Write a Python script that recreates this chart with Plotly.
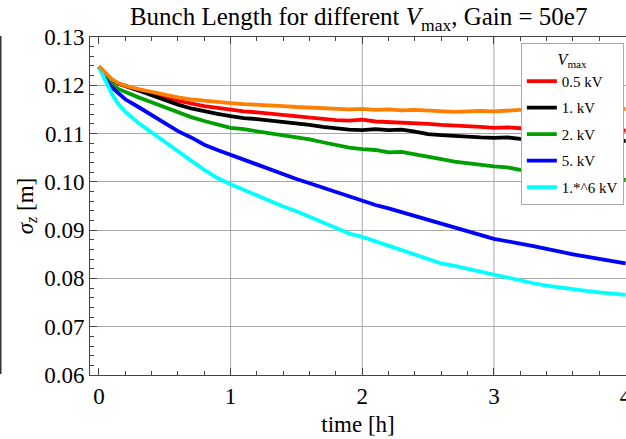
import plotly.graph_objects as go

t = [0, 0.05, 0.1, 0.15, 0.2, 0.3, 0.4, 0.5, 0.6, 0.7, 0.8, 0.9, 1.0, 1.1, 1.2, 1.3, 1.4, 1.5,
     1.6, 1.7, 1.8, 1.9, 2.0, 2.1, 2.2, 2.3, 2.4, 2.5, 2.6, 2.7, 2.8, 2.9, 3.0, 3.1, 3.2, 3.3,
     3.4, 3.5, 3.6, 3.7, 3.8, 3.9, 4.0]

red = [0.1238, 0.1223, 0.1211, 0.1203, 0.1198, 0.1190, 0.1181, 0.1174, 0.1168, 0.1162, 0.1157,
       0.1153, 0.1149, 0.1146, 0.1144, 0.1141, 0.1140, 0.1137, 0.1134, 0.1131, 0.1128, 0.1127,
       0.1129, 0.1125, 0.1124, 0.1123, 0.1121, 0.1120, 0.1118, 0.1117, 0.1115, 0.1114, 0.1112,
       0.1113, 0.1111, 0.1112, 0.1110, 0.1109, 0.1110, 0.1108, 0.1107, 0.1108, 0.1106]

black = [0.1238, 0.1222, 0.1210, 0.1203, 0.1199, 0.1189, 0.1178, 0.1168, 0.1160, 0.1152, 0.1146,
         0.1141, 0.1136, 0.1132, 0.1130, 0.1127, 0.1125, 0.1122, 0.1118, 0.1114, 0.1110, 0.1108,
         0.1107, 0.1109, 0.1107, 0.1108, 0.1104, 0.1099, 0.1097, 0.1095, 0.1093, 0.1092, 0.1091,
         0.1092, 0.1089, 0.1087, 0.1088, 0.1086, 0.1087, 0.1085, 0.1086, 0.1084, 0.1085]

green = [0.1238, 0.1218, 0.1201, 0.1192, 0.1186, 0.1175, 0.1165, 0.1155, 0.1143, 0.1134, 0.1126,
         0.1119, 0.1112, 0.1109, 0.1105, 0.1101, 0.1097, 0.1093, 0.1088, 0.1082, 0.1077, 0.1071,
         0.1068, 0.1066, 0.1061, 0.1062, 0.1057, 0.1053, 0.1047, 0.1042, 0.1038, 0.1035, 0.1032,
         0.1030, 0.1025, 0.1022, 0.1019, 0.1017, 0.1014, 0.1011, 0.1009, 0.1006, 0.1004]

blue = [0.1238, 0.1212, 0.1195, 0.1182, 0.1171, 0.1155, 0.1138, 0.1122, 0.1105, 0.1092, 0.1077,
        0.1066, 0.1056, 0.1045, 0.1034, 0.1024, 0.1015, 0.1006, 0.0997, 0.0988, 0.0979, 0.0968,
        0.0959, 0.0952, 0.0945, 0.0937, 0.0930, 0.0922, 0.0914, 0.0905, 0.0897, 0.0889, 0.0882,
        0.0877, 0.0871, 0.0867, 0.0861, 0.0855, 0.0850, 0.0845, 0.0840, 0.0835, 0.0831]

cyan = [0.1238, 0.1208, 0.1181, 0.1160, 0.1145, 0.1122, 0.1102, 0.1083, 0.1063, 0.1044, 0.1025,
        0.1008, 0.0995, 0.0983, 0.0971, 0.0960, 0.0949, 0.0939, 0.0928, 0.0916, 0.0905, 0.0893,
        0.0886, 0.0877, 0.0867, 0.0857, 0.0848, 0.0840, 0.0831, 0.0826, 0.0820, 0.0814, 0.0808,
        0.0801, 0.0796, 0.0790, 0.0785, 0.0781, 0.0777, 0.0774, 0.0771, 0.0768, 0.0766]

orange = [0.1240, 0.1225, 0.1212, 0.1204, 0.1199, 0.1192, 0.1186, 0.1180, 0.1175, 0.1171, 0.1168,
          0.1166, 0.1163, 0.1161, 0.1160, 0.1158, 0.1157, 0.1155, 0.1154, 0.1152, 0.1151, 0.1150,
          0.1151, 0.1149, 0.1150, 0.1148, 0.1149, 0.1148, 0.1147, 0.1145, 0.1146, 0.1147, 0.1146,
          0.1148, 0.1149, 0.1150, 0.1149, 0.1150, 0.1151, 0.1150, 0.1151, 0.1150, 0.1151]

names = ["0.5 kV", "1. kV", "2. kV", "5. kV", "1.*^6 kV"]
colors = ["#ff0000", "#000000", "#00a000", "#0000ff", "#00ffff"]
series = [red, black, green, blue, cyan]

x_ticks = [0, 1, 2, 3, 4]
y_ticks = [0.06, 0.07, 0.08, 0.09, 0.10, 0.11, 0.12, 0.13]
x_grid = [1, 2, 3]

FONT = "Liberation Serif"

fig = go.Figure()
for nm, col, ys in zip(names, colors, series):
    fig.add_trace(go.Scatter(x=t, y=ys, mode="lines", name=nm, legendgroup=nm,
                             line=dict(color=col, width=3.8)))
fig.add_trace(go.Scatter(x=t, y=orange, mode="lines", name="orange", showlegend=False,
                         line=dict(color="#ff8000", width=3.8)))

shapes = []
for gx in x_grid:
    shapes.append(dict(type="line", xref="x", yref="paper", x0=gx, x1=gx, y0=0, y1=1,
                       line=dict(color="#a8a8a8", width=1), layer="below"))
shapes.append(dict(type="line", xref="paper", yref="paper", x0=-0.167, x1=-0.167, y0=0.003, y1=1.003,
                   line=dict(color="#333333", width=2)))

fig.update_layout(
    width=626, height=439,
    margin=dict(l=90, r=0, t=37, b=64, autoexpand=False),
    paper_bgcolor="white", plot_bgcolor="white",
    font=dict(family=FONT, size=23, color="black"),
    title=dict(text="Bunch Length for different <i>V</i><sub>max</sub>, Gain = 50e7",
               x=0.573, xanchor="center", y=0.962, yanchor="middle",
               font=dict(family=FONT, size=25, color="black")),
    shapes=shapes,
    legend=dict(x=0.996, y=0.982, xanchor="right", yanchor="top",
                bgcolor="white", bordercolor="#aaaaaa", borderwidth=1,
                font=dict(family=FONT, size=15, color="black"),
                title=dict(text="<i>V</i><sub>max</sub>", side="top center",
                           font=dict(family=FONT, size=16)),
                tracegroupgap=4, itemwidth=30),
    showlegend=True,
)
fig.update_xaxes(range=[-0.068, 4.003], tickvals=x_ticks, ticks="inside", ticklen=7,
                 tickcolor="#444444", showline=True, linecolor="#444444", linewidth=1,
                 mirror="ticks", showgrid=False, zeroline=False, automargin=False,
                 ticklabeloverflow="allow",
                 minor=dict(dtick=0.2, tick0=0, ticks="inside", ticklen=4, tickcolor="#444444"),
                 title=dict(text="time [h]", font=dict(family=FONT, size=23), standoff=8),
                 tickfont=dict(family=FONT, size=23))
fig.update_yaxes(range=[0.06, 0.13], tickvals=y_ticks, tickformat=".2f", ticks="inside", ticklen=7,
                 tickcolor="#444444", showline=True, linecolor="#444444", linewidth=1,
                 showgrid=True, gridcolor="#a8a8a8", gridwidth=1, zeroline=False, automargin=False,
                 minor=dict(dtick=0.002, tick0=0.06, ticks="inside", ticklen=4, tickcolor="#444444"),
                 title=dict(text="<i>σ</i><sub><i>z</i></sub> [m]", font=dict(family=FONT, size=23),
                            standoff=4),
                 tickfont=dict(family=FONT, size=23))

fig.write_html("out.html")
